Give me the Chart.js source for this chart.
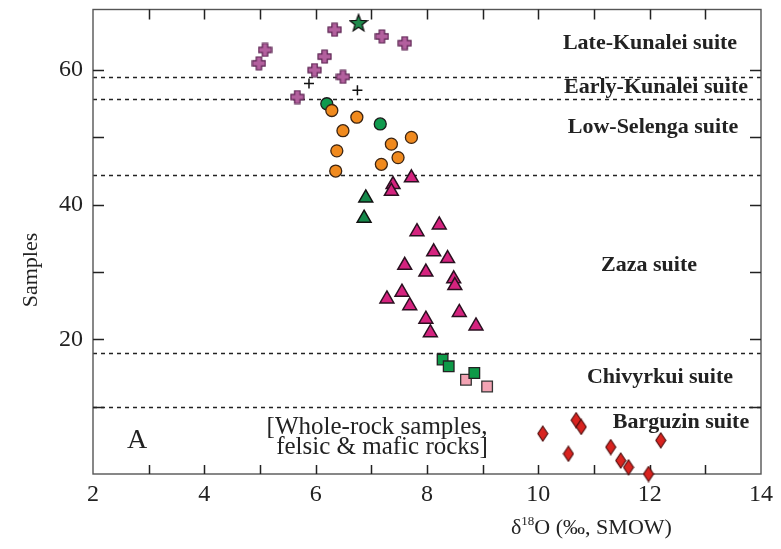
<!DOCTYPE html>
<html><head><meta charset="utf-8">
<script src="https://cdn.jsdelivr.net/npm/chart.js@4/dist/chart.umd.min.js"></script>
<style>html,body{margin:0;padding:0;background:#fff}#wrap{width:781px;height:549px;position:relative}</style>
</head><body><div id="wrap"><canvas id="c" width="781" height="549"></canvas></div>
<script>
// ---- data (delta18O, sample number) ----
const lateKunaleiX = [6.34, 7.19, 7.60, 5.09, 6.16, 4.98, 5.98, 6.49, 5.67];
const lateKunaleiY = [66, 65, 64, 63, 62, 61, 60, 59, 56];
const lateKunaleiStarX = [6.77];
const lateKunaleiStarY = [67];
const earlyKunaleiX = [5.88, 6.75];
const earlyKunaleiY = [58, 57];
const lowSelengaOrangeX = [6.29, 6.74, 6.49, 7.72, 7.36, 6.38, 7.48, 7.18, 6.36];
const lowSelengaOrangeY = [54, 53, 51, 50, 49, 48, 47, 46, 45];
const lowSelengaGreenX = [6.20, 7.16];
const lowSelengaGreenY = [55, 52];
const zazaPinkX = [7.72, 7.39, 7.36, 8.22, 7.82, 8.12, 8.37, 7.60, 7.98, 8.48, 8.50, 7.55, 7.28, 7.69, 8.58, 7.98, 8.88, 8.06];
const zazaPinkY = [44, 43, 42, 37, 36, 33, 32, 31, 30, 29, 28, 27, 26, 25, 24, 23, 22, 21];
const zazaGreenX = [6.90, 6.87];
const zazaGreenY = [41, 38];
const chivyrkuiGreenX = [8.28, 8.39, 8.85];
const chivyrkuiGreenY = [17, 16, 15];
const chivyrkuiPinkX = [8.70, 9.08];
const chivyrkuiPinkY = [14, 13];
const barguzinX = [10.68, 10.77, 10.08, 12.20, 11.30, 10.54, 11.48, 11.62, 11.98];
const barguzinY = [8, 7, 6, 5, 4, 3, 2, 1, 0];

const suiteBoundaries = [59, 55.7, 44.4, 17.9, 10];
const suiteLabels = ["Late-Kunalei suite", "Early-Kunalei suite", "Low-Selenga suite", "Zaza suite", "Chivyrkui suite", "Barguzin suite"];
const xTickLabels = [2, 4, 6, 8, 10, 12, 14];
const yTickLabels = [20, 40, 60];

// ---- helpers ----
const pts = (xs, ys) => xs.map((x, i) => ({x: x, y: ys[i]}));
function mk(w, h, draw) { const c = document.createElement('canvas'); c.width = w; c.height = h; draw(c.getContext('2d'), w, h); return c; }

const plusShape = mk(15, 15, (g, s) => {
  const c = s / 2, t = 2.7, m = 1;
  g.beginPath();
  g.moveTo(c - t, m); g.lineTo(c + t, m); g.lineTo(c + t, c - t); g.lineTo(s - m, c - t);
  g.lineTo(s - m, c + t); g.lineTo(c + t, c + t); g.lineTo(c + t, s - m); g.lineTo(c - t, s - m);
  g.lineTo(c - t, c + t); g.lineTo(m, c + t); g.lineTo(m, c - t); g.lineTo(c - t, c - t); g.closePath();
  g.fillStyle = '#b3609e'; g.fill(); g.lineWidth = 1.2; g.strokeStyle = '#5a2350'; g.stroke();
});
const starShape = mk(20, 20, (g, s) => {
  const c = s / 2, R = 9, r = 3.8;
  g.beginPath();
  for (let i = 0; i < 10; i++) {
    const a = -Math.PI / 2 + i * Math.PI / 5, rr = i % 2 ? r : R;
    const px = c + rr * Math.cos(a), py = c + 0.5 + rr * Math.sin(a);
    i ? g.lineTo(px, py) : g.moveTo(px, py);
  }
  g.closePath(); g.fillStyle = '#1f8a4c'; g.fill(); g.lineWidth = 1.3; g.strokeStyle = '#111'; g.stroke();
});
const diamondShape = mk(12, 17, (g, w, h) => {
  g.beginPath(); g.moveTo(w / 2, 1); g.lineTo(w - 1, h / 2); g.lineTo(w / 2, h - 1); g.lineTo(1, h / 2); g.closePath();
  g.fillStyle = '#d8231f'; g.fill(); g.lineWidth = 1.1; g.strokeStyle = '#4a0a0a'; g.stroke();
});

const SERIF = '"Liberation Serif", "DejaVu Serif", serif';

const overlay = {
  id: 'overlay',
  beforeDatasetsDraw(chart) {
    const {ctx, chartArea: a, scales: {x, y}} = chart;
    ctx.save();
    ctx.strokeStyle = '#222'; ctx.lineWidth = 1.5; ctx.setLineDash([4, 4]);
    suiteBoundaries.forEach(v => {
      const py = Math.round(y.getPixelForValue(v)) + 0.5;
      ctx.beginPath(); ctx.moveTo(a.left, py); ctx.lineTo(a.right, py); ctx.stroke();
    });
    ctx.setLineDash([]);
    ctx.strokeStyle = '#555'; ctx.lineWidth = 1.4;
    ctx.strokeRect(a.left, a.top, a.right - a.left, a.bottom - a.top);
    ctx.strokeStyle = '#222'; ctx.lineWidth = 1.5;
    x.ticks.forEach(t => {
      if (t.value <= x.min || t.value >= x.max) return;
      const px = Math.round(x.getPixelForValue(t.value)) + 0.5;
      ctx.beginPath(); ctx.moveTo(px, a.bottom); ctx.lineTo(px, a.bottom - 9);
      ctx.moveTo(px, a.top); ctx.lineTo(px, a.top + 10); ctx.stroke();
    });
    y.ticks.forEach(t => {
      if (t.value <= y.min || t.value >= y.max || t.value % 10) return;
      const py = Math.round(y.getPixelForValue(t.value)) + 0.5;
      ctx.beginPath(); ctx.moveTo(a.left, py); ctx.lineTo(a.left + 11, py);
      ctx.moveTo(a.right, py); ctx.lineTo(a.right - 11, py); ctx.stroke();
    });
    ctx.restore();
  },
  afterDraw(chart) {
    const {ctx} = chart;
    ctx.save();
    ctx.fillStyle = '#222';
    ctx.font = 'bold 22px ' + SERIF; ctx.textAlign = 'center'; ctx.textBaseline = 'middle';
    const pos = [[650, 43], [656, 87], [653, 127], [649, 265], [660, 377], [681, 422]];
    suiteLabels.forEach((s, i) => ctx.fillText(s, pos[i][0], pos[i][1]));
    ctx.font = '28px ' + SERIF; ctx.fillText('A', 137, 441);
    ctx.font = '25px ' + SERIF;
    ctx.fillText('[Whole-rock samples,', 377, 427);
    ctx.fillText('felsic & mafic rocks]', 382, 447);
    ctx.save(); ctx.translate(31, 270); ctx.rotate(-Math.PI / 2);
    ctx.font = '22px ' + SERIF; ctx.fillText('Samples', 0, 0); ctx.restore();
    ctx.textAlign = 'left'; ctx.textBaseline = 'alphabetic';
    let xx = 511; const by = 534;
    ctx.font = '22px ' + SERIF; ctx.fillText('δ', xx, by); xx += ctx.measureText('δ').width;
    ctx.font = '13px ' + SERIF; ctx.fillText('18', xx, by - 9); xx += ctx.measureText('18').width;
    ctx.font = '22px ' + SERIF; ctx.fillText('O (‰, SMOW)', xx, by);
    ctx.restore();
  }
};

const ds = (data, style, extra) => Object.assign({data: data, pointStyle: style, pointRadius: 7, clip: false, showLine: false}, extra || {});

new Chart(document.getElementById('c'), {
  type: 'scatter',
  data: {
    datasets: [
      ds(pts(lateKunaleiX, lateKunaleiY), plusShape),
      ds(pts(lateKunaleiStarX, lateKunaleiStarY), starShape),
      ds(pts(earlyKunaleiX, earlyKunaleiY), 'cross', {pointRadius: 5, borderColor: '#111', borderWidth: 1.5}),
      ds(pts(lowSelengaOrangeX, lowSelengaOrangeY), 'circle', {pointRadius: 6, backgroundColor: '#f08a1e', borderColor: '#3b2412', borderWidth: 1.3}),
      ds(pts(lowSelengaGreenX, lowSelengaGreenY), 'circle', {pointRadius: 6, backgroundColor: '#109a4e', borderColor: '#1a1a1a', borderWidth: 1.3}),
      ds(pts(zazaPinkX, zazaPinkY), 'triangle', {pointRadius: 8, backgroundColor: '#d5237f', borderColor: '#2a1020', borderWidth: 1.5}),
      ds(pts(zazaGreenX, zazaGreenY), 'triangle', {pointRadius: 8, backgroundColor: '#15884a', borderColor: '#111', borderWidth: 1.5}),
      ds(pts(chivyrkuiGreenX, chivyrkuiGreenY), 'rect', {pointRadius: 7.5, backgroundColor: '#0e9a48', borderColor: '#222', borderWidth: 1.3}),
      ds(pts(chivyrkuiPinkX, chivyrkuiPinkY), 'rect', {pointRadius: 7.5, backgroundColor: '#f2a3b3', borderColor: '#333', borderWidth: 1.3}),
      ds(pts(barguzinX, barguzinY), diamondShape)
    ]
  },
  options: {
    responsive: false, animation: false,
    layout: {padding: {left: 0, right: 20, top: 7, bottom: 0}},
    plugins: {legend: {display: false}, tooltip: {enabled: false}},
    scales: {
      x: {
        type: 'linear', min: 2, max: 14,
        grid: {display: false, drawTicks: false}, border: {display: false},
        ticks: {stepSize: 1, autoSkip: false, maxRotation: 0, padding: 6, color: '#222',
          font: {family: SERIF, size: 24},
          callback: v => xTickLabels.includes(v) ? String(v) : ''},
        afterFit: s => { s.height = 75; s.paddingLeft = 0; s.paddingRight = 0; }
      },
      y: {
        type: 'linear', min: 0, max: 69,
        grid: {display: false, drawTicks: false}, border: {display: false},
        ticks: {stepSize: 10, includeBounds: false, autoSkip: false, padding: 10, color: '#222',
          font: {family: SERIF, size: 24},
          callback: v => yTickLabels.includes(v) ? String(v) : ''},
        afterFit: s => { s.width = 93; s.paddingTop = 0; s.paddingBottom = 0; }
      }
    }
  },
  plugins: [overlay]
});
</script>
</body></html>
